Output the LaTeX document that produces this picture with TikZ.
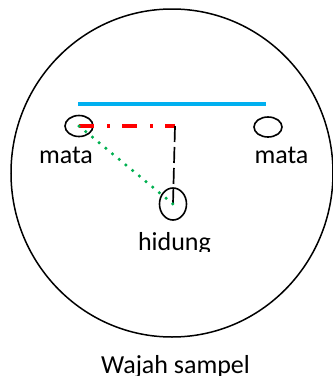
\documentclass[tikz,border=0pt]{standalone}
\usepackage{fontspec}
\setmainfont{Carlito}
\usetikzlibrary{shapes.geometric}

\tikzset{
	organ/.style={draw, ellipse, line width=1.6pt, inner sep=0pt},
	label/.style={anchor=base, inner sep=0pt, font=\fontsize{26}{30}\selectfont},
}

\begin{document}
\begin{tikzpicture}[x=1pt, y=-1pt]

\useasboundingbox (0,0) rectangle (333,376);
\clip (0,0) rectangle (333,376);

% kepala
\draw[line width=1.5pt] (172,173) ellipse (161 and 164);

% mata dan hidung
\node[organ, minimum width=28pt, minimum height=21pt] (mataKiri) at (79,126) {};
\node[organ, minimum width=28pt, minimum height=20pt] (mataKanan) at (268,127) {};
\node[organ, minimum width=27pt, minimum height=32pt] (hidung) at (173,204) {};
\coordinate (sudut) at (175,126);
\coordinate (garisKiri) at (78,104);
\coordinate (garisKanan) at (266,104);

\node[label] (labelKiri) at (66,163) {mata};
\node[label] (labelKanan) at (281.5,163) {mata};
\begin{scope}
	\clip (100,220) rectangle (250,251);
	\node[label] (labelHidung) at (174.5,250) {hidung};
\end{scope}
\node[label] (judul) at (175.5,373) {Wajah sampel};

% garis ukur
\draw[line width=4pt, color={rgb,255:red,0;green,176;blue,240}] (garisKiri) -- (garisKanan);
\draw[line width=3.5pt, red, dash pattern=on 15pt off 13pt on 3pt off 12pt] (mataKiri.center) -- (sudut);
\draw[line width=1.7pt, dash pattern=on 16pt off 5pt] (sudut) -- (hidung.center);
\draw[line width=3.5pt, line cap=round, color={rgb,255:red,0;green,176;blue,80}, dash pattern=on 0pt off 8.7pt] (mataKiri.center) -- (hidung.center);

\end{tikzpicture}
\end{document}
